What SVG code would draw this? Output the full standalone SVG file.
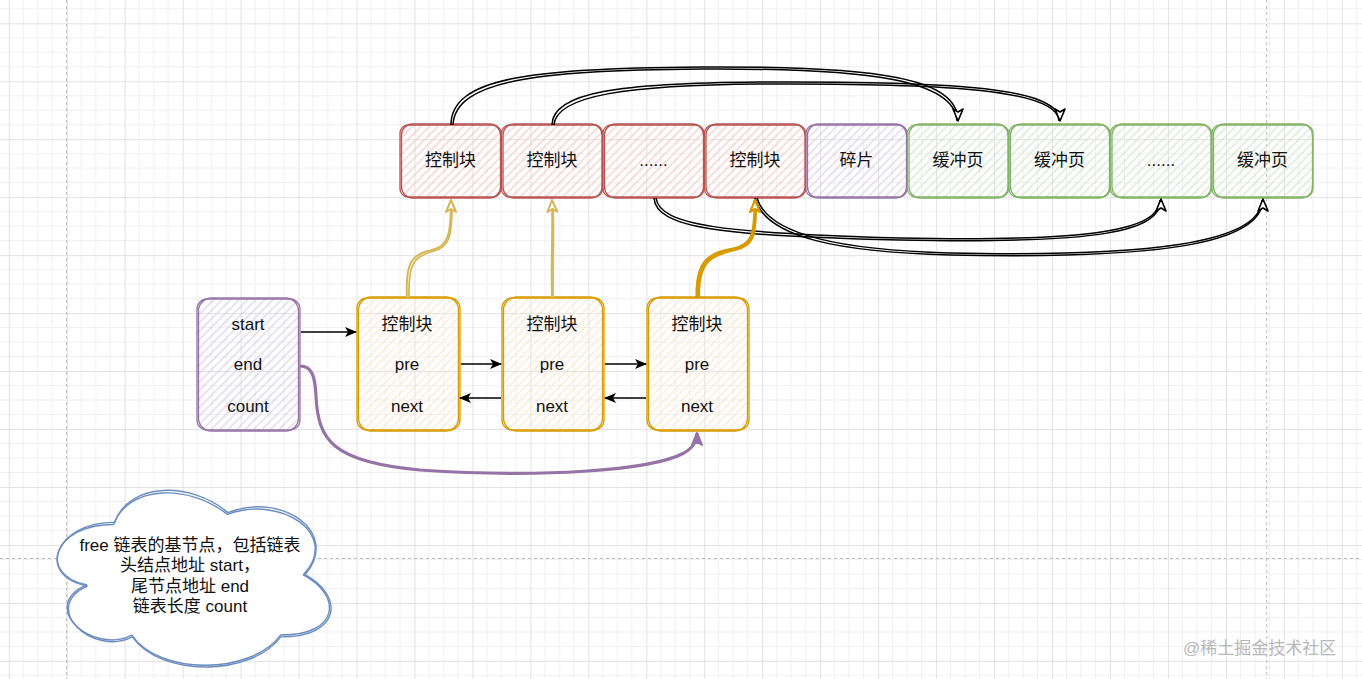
<svg xmlns="http://www.w3.org/2000/svg" width="1362" height="679" viewBox="0 0 1362 679">
<defs>
<style>
.t{font-family:"Liberation Sans","Noto Sans CJK SC",sans-serif;font-size:17px;text-anchor:middle;dominant-baseline:central;fill:#111}
.wm{font-family:"Liberation Sans","Noto Sans CJK SC",sans-serif;font-size:17px;fill:#b8b8b8}
.box{fill:none;stroke-width:1.3;stroke-linejoin:round}
.red{stroke:#b85450}.pur{stroke:#9673a6}.grn{stroke:#82b366}.yel{stroke:#d79b00}.blu{stroke:#6c8ebf}
.bk{fill:none;stroke:#000;stroke-width:1.5}
.page{stroke:#b9b9b9;stroke-width:1;stroke-dasharray:3 3;fill:none}
</style>
<pattern id="grid" width="57.96" height="57.96" x="8.74" y="23.3" patternUnits="userSpaceOnUse">
<path d="M14.49,0V57.96M28.98,0V57.96M43.47,0V57.96M0,14.49H57.96M0,28.98H57.96M0,43.47H57.96" stroke="#f0f0f0" stroke-width="1"/>
<path d="M0.5,0V57.96M0,0.5H57.96" stroke="#e2e2e2" stroke-width="1"/>
</pattern>
<pattern id="hr" width="6" height="6" patternUnits="userSpaceOnUse" patternTransform="rotate(45)"><line x1="3" y1="0" x2="3" y2="6" stroke="#f3c2bf" stroke-width="1.1"/></pattern>
<pattern id="hp" width="6" height="6" patternUnits="userSpaceOnUse" patternTransform="rotate(45)"><line x1="3" y1="0" x2="3" y2="6" stroke="#d9cbe1" stroke-width="1.1"/></pattern>
<pattern id="hg" width="6" height="6" patternUnits="userSpaceOnUse" patternTransform="rotate(45)"><line x1="3" y1="0" x2="3" y2="6" stroke="#cfe2cc" stroke-width="1.1"/></pattern>
<pattern id="hy" width="6" height="6" patternUnits="userSpaceOnUse" patternTransform="rotate(45)"><line x1="3" y1="0" x2="3" y2="6" stroke="#fde3c6" stroke-width="1.1"/></pattern>
<pattern id="hb" width="6" height="6" patternUnits="userSpaceOnUse" patternTransform="rotate(45)"><line x1="3" y1="0" x2="3" y2="6" stroke="#bfd3f0" stroke-width="1.1"/></pattern>
<marker id="ob" viewBox="0 0 14 12" refX="13" refY="6" markerWidth="14" markerHeight="12" markerUnits="userSpaceOnUse" orient="auto"><path d="M1,1 L13,6 L1,11 L4,6 Z" fill="#fff" stroke="#000" stroke-width="1.6" stroke-linejoin="round"/></marker>
<marker id="oyl" viewBox="0 0 14 12" refX="13" refY="6" markerWidth="14" markerHeight="12" markerUnits="userSpaceOnUse" orient="auto"><path d="M1,1 L13,6 L1,11 L4,6 Z" fill="#fff" stroke="#d6b656" stroke-width="2" stroke-linejoin="round"/></marker>
<marker id="oyd" viewBox="0 0 14 12" refX="13" refY="6" markerWidth="14" markerHeight="12" markerUnits="userSpaceOnUse" orient="auto"><path d="M1,1 L13,6 L1,11 L4,6 Z" fill="#fff" stroke="#d79b00" stroke-width="2.2" stroke-linejoin="round"/></marker>
<marker id="opu" viewBox="0 0 14 12" refX="13" refY="6" markerWidth="14" markerHeight="12" markerUnits="userSpaceOnUse" orient="auto"><path d="M1,1 L13,6 L1,11 L4,6 Z" fill="#9673a6" stroke="#9673a6" stroke-width="2" stroke-linejoin="round"/></marker>
<marker id="fb" viewBox="0 0 12 10" refX="11" refY="5" markerWidth="12" markerHeight="10" markerUnits="userSpaceOnUse" orient="auto"><path d="M0,0 L12,5 L0,10 L3,5 Z" fill="#000"/></marker>
</defs>
<rect width="1362" height="679" fill="#fff"/>
<rect width="1362" height="679" fill="url(#grid)"/>
<path class="page" d="M66.7,0V679M1266.7,0V679M0,558.5H1362"/>

<g id="top-row">
<g id="cb1"><rect x="400" y="125" width="101" height="72" rx="8" fill="url(#hr)"/><rect class="box red" x="400" y="125" width="101" height="72" rx="8"/><rect class="box red" x="401.5" y="124" width="99" height="74" rx="11"/><text class="t" x="450.5" y="160">控制块</text></g>
<g id="cb2"><rect x="501.5" y="125" width="101" height="72" rx="8" fill="url(#hr)"/><rect class="box red" x="501.5" y="125" width="101" height="72" rx="8"/><rect class="box red" x="503" y="124" width="99" height="74" rx="11"/><text class="t" x="552" y="160">控制块</text></g>
<g id="cb3"><rect x="603" y="125" width="101" height="72" rx="8" fill="url(#hr)"/><rect class="box red" x="603" y="125" width="101" height="72" rx="8"/><rect class="box red" x="604.5" y="124" width="99" height="74" rx="11"/><text class="t" x="653.5" y="160">......</text></g>
<g id="cb4"><rect x="704.5" y="125" width="101" height="72" rx="8" fill="url(#hr)"/><rect class="box red" x="704.5" y="125" width="101" height="72" rx="8"/><rect class="box red" x="706" y="124" width="99" height="74" rx="11"/><text class="t" x="755" y="160">控制块</text></g>
<g id="frag"><rect x="806" y="125" width="101" height="72" rx="8" fill="url(#hp)"/><rect class="box pur" x="806" y="125" width="101" height="72" rx="8"/><rect class="box pur" x="807.5" y="124" width="99" height="74" rx="11"/><text class="t" x="856.5" y="160">碎片</text></g>
<g id="bp1"><rect x="907.5" y="125" width="101" height="72" rx="8" fill="url(#hg)"/><rect class="box grn" x="907.5" y="125" width="101" height="72" rx="8"/><rect class="box grn" x="909" y="124" width="99" height="74" rx="11"/><text class="t" x="958" y="160">缓冲页</text></g>
<g id="bp2"><rect x="1009" y="125" width="101" height="72" rx="8" fill="url(#hg)"/><rect class="box grn" x="1009" y="125" width="101" height="72" rx="8"/><rect class="box grn" x="1010.5" y="124" width="99" height="74" rx="11"/><text class="t" x="1059.5" y="160">缓冲页</text></g>
<g id="bp3"><rect x="1110.5" y="125" width="101" height="72" rx="8" fill="url(#hg)"/><rect class="box grn" x="1110.5" y="125" width="101" height="72" rx="8"/><rect class="box grn" x="1112" y="124" width="99" height="74" rx="11"/><text class="t" x="1161" y="160">......</text></g>
<g id="bp4"><rect x="1212" y="125" width="101" height="72" rx="8" fill="url(#hg)"/><rect class="box grn" x="1212" y="125" width="101" height="72" rx="8"/><rect class="box grn" x="1213.5" y="124" width="99" height="74" rx="11"/><text class="t" x="1262.5" y="160">缓冲页</text></g>
</g>

<g id="head"><rect x="197" y="299" width="103" height="131" rx="10" fill="url(#hp)"/><rect class="box pur" x="197" y="299" width="103" height="131" rx="10"/><rect class="box pur" x="198.5" y="298" width="100" height="133" rx="13"/><text class="t" x="248" y="324">start</text><text class="t" x="248" y="364">end</text><text class="t" x="248" y="406">count</text></g>
<g id="n1"><rect x="357" y="298" width="103" height="132" rx="10" fill="url(#hy)"/><rect class="box yel" x="357" y="298" width="103" height="132" rx="10"/><rect class="box yel" x="358.5" y="297" width="100" height="134" rx="13"/><text class="t" x="407" y="324">控制块</text><text class="t" x="407" y="364">pre</text><text class="t" x="407" y="406">next</text></g>
<g id="n2"><rect x="502" y="298" width="102" height="132" rx="10" fill="url(#hy)"/><rect class="box yel" x="502" y="298" width="102" height="132" rx="10"/><rect class="box yel" x="503.5" y="297" width="99" height="134" rx="13"/><text class="t" x="552" y="324">控制块</text><text class="t" x="552" y="364">pre</text><text class="t" x="552" y="406">next</text></g>
<g id="n3"><rect x="647" y="298" width="102" height="132" rx="10" fill="url(#hy)"/><rect class="box yel" x="647" y="298" width="102" height="132" rx="10"/><rect class="box yel" x="648.5" y="297" width="99" height="134" rx="13"/><text class="t" x="697" y="324">控制块</text><text class="t" x="697" y="364">pre</text><text class="t" x="697" y="406">next</text></g>

<g id="note">
<g transform="translate(195,577) scale(1.1,1.13) translate(-200,-579)">
<path d="M126,532.5 C70.8,532.5 57,577 101.2,585.9 C57,605.5 106.7,648.2 142.6,630.4 C167.4,666 250.2,666 277.8,630.4 C333,630.4 333,594.8 298.5,577 C333,541.4 277.8,505.8 229.5,523.6 C195,496.9 139.8,496.9 126,532.5 Z" fill="#fff"/>
<path d="M126,532.5 C70.8,532.5 57,577 101.2,585.9 C57,605.5 106.7,648.2 142.6,630.4 C167.4,666 250.2,666 277.8,630.4 C333,630.4 333,594.8 298.5,577 C333,541.4 277.8,505.8 229.5,523.6 C195,496.9 139.8,496.9 126,532.5 Z" fill="url(#hb)" class="box blu" stroke-width="1.4"/>
<path d="M127,530.5 C72,531 55,578 102,587 C59,606 107,650 143,632 C169,668 251,667 278,632 C334,632 335,595 300,577 C333,540 279,503 230,522 C196,494 140,495 127,530.5 Z" class="box blu" stroke-width="1.1"/>
</g>
<text class="t" x="190" y="545">free 链表的基节点，包括链表</text>
<text class="t" x="190" y="565">头结点地址 start，</text>
<text class="t" x="190" y="586">尾节点地址 end</text>
<text class="t" x="190" y="606">链表长度 count</text>
</g>

<g id="connectors">
<path class="bk" d="M453,125 C455,80 540,70 700,69 C870,68 955,80 957,121"/>
<path class="bk" d="M451,125 C451,78 530,68 700,67 C880,66 958,78 958,121" marker-end="url(#ob)"/>
<path class="bk" d="M554,125 C556,95 630,85 760,84 C950,83 1058,90 1059,121"/>
<path class="bk" d="M552,125 C552,92 620,83 760,82 C960,81 1060,88 1060,121" marker-end="url(#ob)"/>
<path class="bk" d="M656,198 C660,226 725,233 900,238 C1095,242 1159,230 1160,200"/>
<path class="bk" d="M654,198 C656,228 720,236 900,240 C1100,244 1161,232 1161,199" marker-end="url(#ob)"/>
<path class="bk" d="M757,198 C768,236 845,250 950,253 C1145,257 1261,244 1262,200"/>
<path class="bk" d="M755,198 C765,238 840,252 950,255 C1150,259 1263,246 1263,199" marker-end="url(#ob)"/>

<path d="M409,298 C408,263 414,256 434,251 C449,247 452,237 452,205" fill="none" stroke="#d6b656" stroke-width="1.8"/>
<path d="M407,298 C405,262 412,254 432,250 C448,246 451,236 451,200" fill="none" stroke="#d6b656" stroke-width="2" marker-end="url(#oyl)"/>
<path d="M553,298 C553,260 554,230 553,205" fill="none" stroke="#d6b656" stroke-width="1.8"/>
<path d="M552,298 C551,260 553,230 552,200" fill="none" stroke="#d6b656" stroke-width="2" marker-end="url(#oyl)"/>
<path d="M699,298 C698,263 710,255 735,250 C753,246 756,237 756,205" fill="none" stroke="#d79b00" stroke-width="2.2"/>
<path d="M697,298 C696,262 708,253 733,249 C752,245 755,236 755,200" fill="none" stroke="#d79b00" stroke-width="3" marker-end="url(#oyd)"/>

<path d="M300,366 C312,366 315,376 316,396 C318,440 332,462 420,470 C540,478 650,471 684,453 C694,447 697,441 697,433" fill="none" stroke="#9673a6" stroke-width="3.2" marker-end="url(#opu)"/>

<path class="bk" d="M301,332 L356,332" marker-end="url(#fb)"/>
<path class="bk" d="M461,364 L501,364" marker-end="url(#fb)"/>
<path class="bk" d="M501,398 L460,398" marker-end="url(#fb)"/>
<path class="bk" d="M605,364 L646,364" marker-end="url(#fb)"/>
<path class="bk" d="M646,398 L605,398" marker-end="url(#fb)"/>
</g>

<text class="wm" x="1183" y="654">@稀土掘金技术社区</text>
</svg>
